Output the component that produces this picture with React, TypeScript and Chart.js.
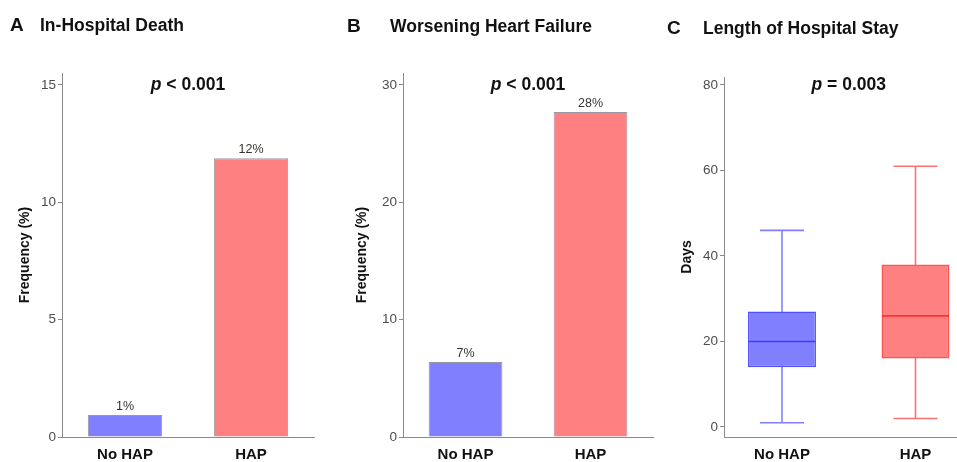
import React, { useEffect, useRef } from 'react';
import { Chart, registerables } from 'chart.js';
Chart.register(...registerables);

// ---- data ----
const categories = ['No HAP', 'HAP'];

const deathValues = [0.94, 11.88];
const deathLabels = ['1%', '12%'];
const deathTicks = [0, 5, 10, 15];

const whfValues = [6.4, 27.7];
const whfLabels = ['7%', '28%'];
const whfTicks = [0, 10, 20, 30];

const stayPositions = [1, 2];
const stayMin = [1, 2];
const stayQ1 = [14, 16];
const stayMedian = [20, 26];
const stayQ3 = [27, 38];
const stayMax = [46, 61];
const stayTicks = [0, 20, 40, 60, 80];

const pTexts = ['< 0.001', '< 0.001', '= 0.003'];
const pYValues = [15, 30, 80];

// ---- styles ----
const FONT = "'Liberation Sans', Arial, sans-serif";
const BLUE_FILL = 'rgb(128,128,255)';
const RED_FILL = 'rgb(255,128,128)';
const AXIS_GREY = '#8a8a8a';
const BAR_BORDER = 'rgba(70,70,90,0.55)';

function annotPlugin(opts: {
  valueLabels?: string[];
  pText: string;
  pY: number;
  xVals: [number, number];
}) {
  return {
    id: 'annot',
    afterDatasetsDraw(chart: any) {
      const ctx = chart.ctx;
      const xs = chart.scales.x;
      const ys = chart.scales.y;
      ctx.save();
      if (opts.valueLabels) {
        const meta = chart.getDatasetMeta(0);
        ctx.font = `12.5px ${FONT}`;
        ctx.fillStyle = '#333';
        ctx.textAlign = 'center';
        ctx.textBaseline = 'bottom';
        meta.data.forEach((el: any, i: number) => {
          ctx.fillText(opts.valueLabels![i], el.x, el.y - 2);
        });
      }
      const cx = (xs.getPixelForValue(opts.xVals[0]) + xs.getPixelForValue(opts.xVals[1])) / 2;
      const cy = ys.getPixelForValue(opts.pY);
      const f1 = `italic bold 17.5px ${FONT}`;
      const f2 = `bold 17.5px ${FONT}`;
      ctx.font = f1;
      const w1 = ctx.measureText('p').width;
      ctx.font = f2;
      const rest = ' ' + opts.pText;
      const w2 = ctx.measureText(rest).width;
      const start = cx - (w1 + w2) / 2;
      ctx.textAlign = 'left';
      ctx.textBaseline = 'middle';
      ctx.fillStyle = '#111';
      ctx.font = f1;
      ctx.fillText('p', start, cy);
      ctx.font = f2;
      ctx.fillText(rest, start + w1, cy);
      ctx.restore();
    },
  };
}

function yAxis(min: number, max: number, ticks: number[], width: number, title: string, titlePad: number) {
  return {
    type: 'linear',
    min,
    max,
    afterBuildTicks: (s: any) => {
      s.ticks = ticks.map((v) => ({ value: v }));
    },
    afterFit: (s: any) => {
      s.width = width;
    },
    grid: { drawOnChartArea: false, drawTicks: true, tickLength: 4, color: AXIS_GREY },
    border: { display: true, color: AXIS_GREY, width: 1 },
    ticks: { padding: 2, color: '#4d4d4d', font: { family: FONT, size: 13.5 } },
    title: {
      display: true,
      text: title,
      color: '#111',
      font: { family: FONT, size: 14, weight: 'bold' },
      padding: { top: titlePad, bottom: 0 },
    },
  };
}

function xCategoryAxis() {
  return {
    type: 'category',
    offset: true,
    afterFit: (s: any) => {
      s.height = 25;
      s.paddingLeft = 0;
      s.paddingRight = 0;
    },
    grid: { display: false, drawTicks: false },
    border: { display: true, color: AXIS_GREY, width: 1 },
    ticks: { padding: 9, color: '#111', font: { family: FONT, size: 15, weight: 'bold' } },
  };
}

function barConfig(values: number[], labels: string[], ticks: number[], max: number, yWidth: number, titlePad: number, padRight: number, pText: string, pY: number) {
  return {
    type: 'bar',
    data: {
      labels: categories,
      datasets: [
        {
          data: values,
          backgroundColor: [BLUE_FILL, RED_FILL],
          borderColor: BAR_BORDER,
          borderWidth: 1,
          barPercentage: 0.59,
          categoryPercentage: 1,
        },
      ],
    },
    options: {
      animation: false,
      responsive: false,
      devicePixelRatio: 1,
      layout: { autoPadding: false, padding: { top: 73, right: padRight, left: 0, bottom: 0 } },
      plugins: { legend: { display: false }, tooltip: { enabled: false } },
      scales: {
        x: xCategoryAxis(),
        y: yAxis(0, max, ticks, yWidth, 'Frequency (%)', titlePad),
      },
    },
    plugins: [annotPlugin({ valueLabels: labels, pText, pY, xVals: [0, 1] })],
  };
}

function boxConfig() {
  const pts = (vals: number[]) => stayPositions.map((x, i) => ({ x, y: vals[i] }));
  const ranges = (a: number[], b: number[]) => stayPositions.map((x, i) => ({ x, y: [a[i], b[i]] }));
  const whisker = ['rgb(128,128,255)', 'rgb(255,112,112)'];
  const boxBorder = ['rgb(80,80,255)', 'rgb(255,85,85)'];
  const medianCol = ['rgb(60,60,255)', 'rgb(255,50,50)'];
  return {
    type: 'bar',
    data: {
      datasets: [
        {
          type: 'bar',
          data: ranges(stayMin, stayMax),
          backgroundColor: whisker,
          borderWidth: 0,
          grouped: false,
          maxBarThickness: 1.6,
          order: 5,
        },
        {
          type: 'bar',
          data: ranges(stayQ1, stayQ3),
          backgroundColor: [BLUE_FILL, RED_FILL],
          borderColor: boxBorder,
          borderWidth: 1.5,
          borderSkipped: false,
          grouped: false,
          barPercentage: 0.509,
          categoryPercentage: 1,
          order: 4,
        },
        {
          type: 'line',
          data: pts(stayMin),
          showLine: false,
          pointStyle: 'line',
          pointRadius: 22,
          pointBorderWidth: 1.6,
          pointBorderColor: whisker,
          order: 1,
        },
        {
          type: 'line',
          data: pts(stayMax),
          showLine: false,
          pointStyle: 'line',
          pointRadius: 22,
          pointBorderWidth: 1.6,
          pointBorderColor: whisker,
          order: 1,
        },
        {
          type: 'line',
          data: pts(stayMedian),
          showLine: false,
          pointStyle: 'line',
          pointRadius: 33.5,
          pointBorderWidth: 1.6,
          pointBorderColor: medianCol,
          order: 0,
        },
      ],
    },
    options: {
      animation: false,
      responsive: false,
      devicePixelRatio: 1,
      layout: { autoPadding: false, padding: { top: 77, right: 0, left: 0, bottom: 0 } },
      plugins: { legend: { display: false }, tooltip: { enabled: false } },
      scales: {
        x: {
          type: 'linear',
          min: 0.5655,
          max: 2.311,
          offset: false,
          afterBuildTicks: (s: any) => {
            s.ticks = stayPositions.map((v) => ({ value: v }));
          },
          afterFit: (s: any) => {
            s.height = 25;
            s.paddingLeft = 0;
            s.paddingRight = 0;
          },
          grid: { display: false, drawTicks: false },
          border: { display: true, color: AXIS_GREY, width: 1 },
          ticks: {
            padding: 9,
            color: '#111',
            font: { family: FONT, size: 15, weight: 'bold' },
            callback: (v: number) => categories[stayPositions.indexOf(v)] ?? '',
          },
        },
        y: yAxis(-2.34, 81.87, stayTicks, 64, 'Days', 19),
      },
    },
    plugins: [annotPlugin({ pText: pTexts[2], pY: pYValues[2], xVals: [1, 2] })],
  };
}

function Panel({ left, width, make }: { left: number; width: number; make: () => any }) {
  const ref = useRef<HTMLCanvasElement | null>(null);
  useEffect(() => {
    const chart = new Chart(ref.current as HTMLCanvasElement, make());
    return () => chart.destroy();
  }, []);
  return (
    <canvas
      ref={ref}
      width={width}
      height={462}
      style={{ position: 'absolute', left, top: 0, width, height: 462 }}
    />
  );
}

const titleStyle = (left: number, top: number, size: number): React.CSSProperties => ({
  position: 'absolute',
  left,
  top,
  fontFamily: FONT,
  fontWeight: 'bold',
  fontSize: size,
  lineHeight: '20px',
  color: '#111',
  whiteSpace: 'nowrap',
});

export default function App() {
  return (
    <div style={{ position: 'absolute', left: 0, top: 0, width: 957, height: 462, background: '#fff', overflow: 'hidden' }}>
      <Panel left={0} width={330} make={() => barConfig(deathValues, deathLabels, deathTicks, 15.51, 62, 17, 16, pTexts[0], pYValues[0])} />
      <Panel left={330} width={330} make={() => barConfig(whfValues, whfLabels, whfTicks, 31.02, 73, 24, 7, pTexts[1], pYValues[1])} />
      <Panel left={660} width={297} make={boxConfig} />
      <div style={titleStyle(10, 15, 19)}>A</div>
      <div style={titleStyle(40, 15, 17.5)}>In-Hospital Death</div>
      <div style={titleStyle(347, 16, 19)}>B</div>
      <div style={titleStyle(390, 16, 17.5)}>Worsening Heart Failure</div>
      <div style={titleStyle(667, 18, 19)}>C</div>
      <div style={titleStyle(703, 18, 17.5)}>Length of Hospital Stay</div>
    </div>
  );
}
